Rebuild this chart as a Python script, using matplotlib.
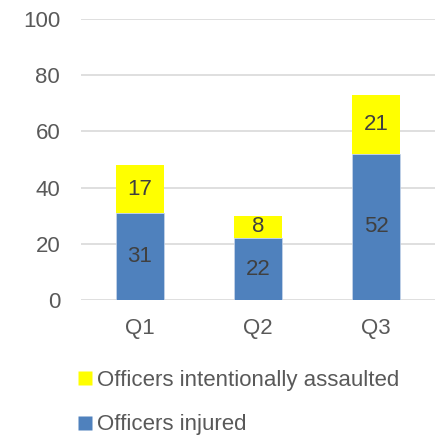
import numpy as np
import matplotlib.pyplot as plt
from matplotlib.lines import Line2D

plt.rcParams['font.family'] = ['Liberation Sans', 'DejaVu Sans']

# data
quarters = ['Q1', 'Q2', 'Q3']
injured = [31, 22, 52]
assaulted = [17, 8, 21]

blue = '#4F81BD'
yellow = '#FFFF00'
grey = '#595959'

W, H = 436, 436
fig = plt.figure(figsize=(W / 100, H / 100), dpi=100)
# axes in pixel coords: left 81, right 435, top (y=100) 19, bottom (y=0) 300
ax = fig.add_axes([81 / W, 1 - 300 / H, 354 / W, 281 / H])

x = np.arange(len(quarters))
b1 = ax.bar(x, injured, width=0.4, color=blue, edgecolor='#c9d6ea', linewidth=0.5, zorder=3)
b2 = ax.bar(x, assaulted, width=0.4, bottom=injured, color=yellow, zorder=3)

ax.bar_label(b1, label_type='center', fontsize=16, color='#404040')
ax.bar_label(b2, label_type='center', fontsize=16, color='#404040')

ax.set_xlim(-0.5, 2.5)
ax.set_ylim(0, 100)
ax.set_yticks(range(0, 101, 20))
ax.set_xticks(x)
ax.set_xticklabels(quarters)
ax.tick_params(axis='both', length=0, labelsize=16, colors=grey)
ax.tick_params(axis='y', pad=15)
ax.tick_params(axis='x', pad=13)
ax.yaxis.grid(True, color='#d9d9d9', linewidth=1.2, zorder=0)
for s in ax.spines.values():
    s.set_visible(False)

# square legend markers (~13 px)
handles = [Line2D([], [], marker='s', linestyle='none', markersize=9.5,
                  markerfacecolor=c, markeredgecolor='none') for c in (yellow, blue)]
fig.legend(handles, ['Officers intentionally assaulted', 'Officers injured'],
           loc='upper left', bbox_to_anchor=(78 / W, 1 - 370 / H), frameon=False,
           fontsize=16, labelcolor=grey, handlelength=0.6, handletextpad=0.25,
           labelspacing=1.05, borderpad=0, borderaxespad=0)

fig.savefig('out.png', dpi=100)
